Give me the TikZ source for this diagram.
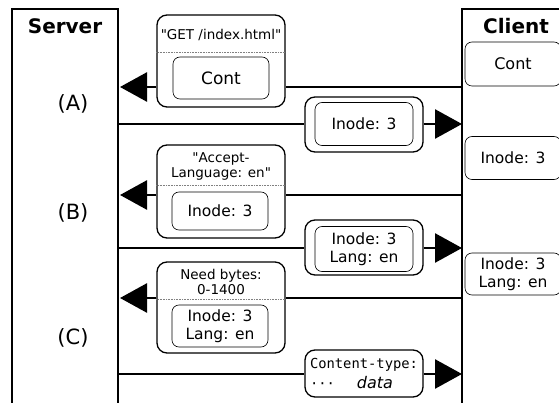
\documentclass[tikz,border=0pt]{standalone}
\usepackage{fontspec}
\setmainfont{DejaVu Sans}
\setmonofont{DejaVu Sans Mono}
\usetikzlibrary{arrows.meta}
\tikzset{
 party/.style={line width=2pt},
 msg/.style={line width=2.6pt, -{Triangle[length=27pt,width=29pt]}},
 plain/.style={line width=2.6pt},
 outer/.style={draw, line width=1.3pt, rounded corners=10pt, fill=white, inner sep=0pt},
 innerbox/.style={draw, line width=0.6pt, rounded corners=7pt, inner sep=0pt, align=center, font=\fontsize{15.5}{18}\selectfont},
 head/.style={align=center, inner sep=0pt, font=\fontsize{13.5}{15}\selectfont},
 sepline/.style={draw=gray, densely dotted, line width=0.6pt},
 title/.style={font=\fontsize{20}{24}\bfseries\selectfont},
 lab/.style={font=\fontsize{21}{24}\selectfont},
}
\begin{document}
\begin{tikzpicture}[x=1pt,y=-1pt]
\useasboundingbox (0,0) rectangle (559,403);
% parties
\draw[party] (12,404) -- (12,9) -- (118,9) -- (118,404);
\draw[party] (462,404) -- (462,9) -- (560,9);
\node[title] (server) at (65,26) {Server};
\node[title] (client) at (516,26) {Client};
\node[lab] (labA) at (73,104) {(A)};
\node[lab] (labB) at (73,213) {(B)};
\node[lab] (labC) at (73,338) {(C)};
% client state
\node[innerbox, minimum width=96pt, minimum height=44pt, font=\fontsize{16}{18}\selectfont] (K1) at (513,64) {Cont};
\node[innerbox, minimum width=96pt, minimum height=43pt] (K2) at (513,158) {Inode: 3};
\node[innerbox, minimum width=96pt, minimum height=42pt] (K3) at (513,274) {Inode: 3\\Lang: en};
% coordinates
\coordinate (s1) at (120,87);  \coordinate (c1) at (462,87);
\coordinate (s2) at (118,124); \coordinate (c2) at (462,124);
\coordinate (s3) at (120,195); \coordinate (c3) at (462,195);
\coordinate (s4) at (118,248); \coordinate (c4) at (462,248);
\coordinate (s5) at (120,298); \coordinate (c5) at (462,298);
\coordinate (s6) at (118,374); \coordinate (c6) at (462,374);
% message 1
\node[outer, minimum width=128pt, minimum height=92pt] (L1) at (221,61) {};
\node[head] (L1h) at (221,35) {\textquotedbl GET /index.html\textquotedbl};
\draw[sepline] (L1.west |- 0,52) -- (L1.east |- 0,52);
\node[innerbox, minimum width=96pt, minimum height=42pt, font=\fontsize{17}{19}\selectfont] (L1i) at (221,78) {Cont};
\draw[plain] (c1) -- (L1.east |- c1);
\draw[msg] (L1.west |- c1) -- (s1);
% message 2
\node[outer, minimum width=118pt, minimum height=55pt] (R1) at (364,124.5) {};
\node[innerbox, minimum width=98pt, minimum height=43pt] (R1i) at (364,124) {Inode: 3};
\draw[plain] (s2) -- (R1.west |- s2);
\draw[msg] (R1.east |- s2) -- (c2);
% message 3
\node[outer, minimum width=128pt, minimum height=93pt] (L2) at (221,191.5) {};
\node[head] (L2h) at (221,166) {\textquotedbl Accept-\\Language: en\textquotedbl};
\draw[sepline] (L2.west |- 0,185) -- (L2.east |- 0,185);
\node[innerbox, minimum width=96pt, minimum height=38pt] (L2i) at (220,211) {Inode: 3};
\draw[plain] (c3) -- (L2.east |- c3);
\draw[msg] (L2.west |- c3) -- (s3);
% message 4
\node[outer, minimum width=118pt, minimum height=55pt] (R2) at (364,247.5) {};
\node[innerbox, minimum width=98pt, minimum height=45pt] (R2i) at (364,249) {Inode: 3\\Lang: en};
\draw[plain] (s4) -- (R2.west |- s4);
\draw[msg] (R2.east |- s4) -- (c4);
% message 5
\node[outer, minimum width=128pt, minimum height=91pt] (L3) at (221,307.5) {};
\node[head] (L3h) at (221,282) {Need bytes:\\0-1400};
\draw[sepline] (L3.west |- 0,299) -- (L3.east |- 0,299);
\node[innerbox, minimum width=96pt, minimum height=42pt] (L3i) at (220,326) {Inode: 3\\Lang: en};
\draw[plain] (c5) -- (L3.east |- c5);
\draw[msg] (L3.west |- c5) -- (s5);
% message 6
\node[outer, minimum width=118pt, minimum height=47pt, align=left, font=\fontsize{13.8}{20}\selectfont] (R3) at (364,373.5) {\texttt{Content-type:}\\\texttt{···}\hspace{22pt}{\fontsize{16}{20}\selectfont\itshape data}};
\draw[plain] (s6) -- (R3.west |- s6);
\draw[msg] (R3.east |- s6) -- (c6);
\end{tikzpicture}
\end{document}
